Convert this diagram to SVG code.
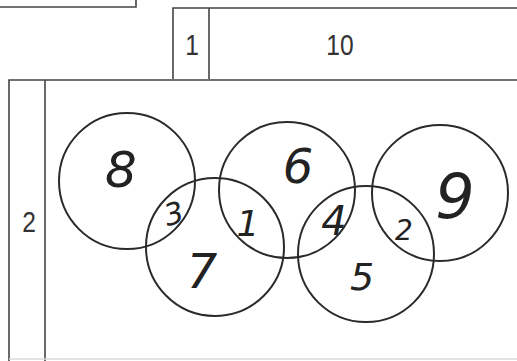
<svg xmlns="http://www.w3.org/2000/svg" width="517" height="361" viewBox="0 0 517 361">
<style>
.frame{fill:none;stroke:#444;stroke-width:1.6}
.faint{fill:none;stroke:#d8d8d8;stroke-width:1.5}
.lbl{font-family:"Liberation Sans",Arial,sans-serif;font-size:30px;fill:#333;text-anchor:middle}
.ring{fill:none;stroke:#2a2a2a;stroke-width:2}
.hand{font-family:"DejaVu Sans","Liberation Sans",sans-serif;font-weight:300;fill:#222;text-anchor:middle;font-style:italic}
</style>
<rect width="517" height="361" fill="#fff"/>
<g id="top-left-box">
<polyline class="frame" points="0,7 136,7 136,0"/>
</g>
<g id="header-box">
<polyline class="frame" points="173,79 173,8 517,8"/>
<line class="frame" x1="209" y1="8" x2="209" y2="79"/>
<text class="lbl" transform="translate(192 55) scale(0.82 1)">1</text>
<text class="lbl" transform="translate(340 55) scale(0.82 1)">10</text>
</g>
<g id="main-box">
<polyline class="frame" points="9,361 9,80 517,80"/>
<line class="frame" x1="45" y1="80" x2="45" y2="361"/>
<line class="faint" x1="9" y1="359" x2="517" y2="359"/>
<text class="lbl" transform="translate(29 232) scale(0.82 1)">2</text>
</g>
<g id="circles">
<circle class="ring" cx="127" cy="181" r="68"/>
<circle class="ring" cx="215" cy="247" r="69"/>
<circle class="ring" cx="287" cy="190" r="68"/>
<circle class="ring" cx="366" cy="254" r="68"/>
<circle class="ring" cx="440" cy="193" r="68"/>
</g>
<g id="numbers">
<text class="hand" x="121" y="187" font-size="50">8</text>
<text class="hand" x="174" y="224" font-size="30" transform="rotate(-15 174 214)">3</text>
<text class="hand" x="202" y="288" font-size="48">7</text>
<text class="hand" x="248" y="236" font-size="36">1</text>
<text class="hand" x="298" y="183" font-size="48">6</text>
<text class="hand" x="334" y="235" font-size="40">4</text>
<text class="hand" x="362" y="290" font-size="38">5</text>
<text class="hand" x="404" y="240" font-size="28">2</text>
<text class="hand" x="455" y="218" font-size="62">9</text>
</g>
</svg>
